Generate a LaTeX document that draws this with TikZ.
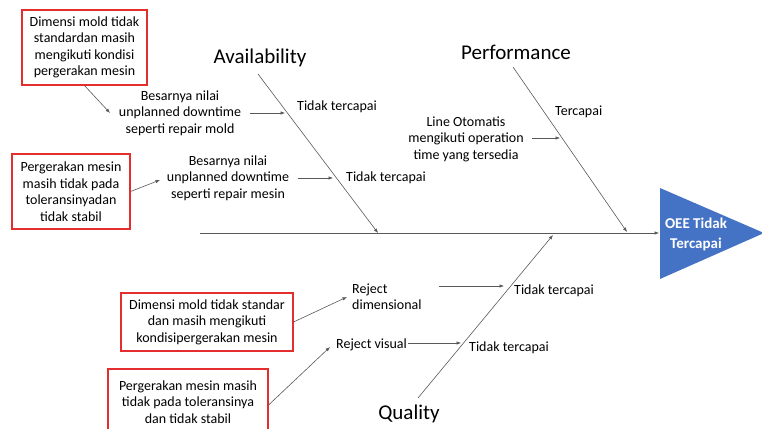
\documentclass[tikz,border=0pt]{standalone}
\usepackage{fontspec}
\setmainfont{Carlito}
\usetikzlibrary{arrows.meta}
\definecolor{boxred}{RGB}{228,45,45}
\definecolor{oeeblue}{RGB}{68,114,196}

\begin{document}
\begin{tikzpicture}[>=latex,x=1pt,y=-1pt,
		bone/.style={draw=black!65,line width=0.6pt},
		arr/.style={bone,-{Latex[length=4.5pt,width=3.5pt]}},
		cause/.style={align=center,font=\fontsize{14}{16.5}\selectfont,inner sep=0pt},
		rootbox/.style={draw=boxred,line width=1.1pt,align=center,font=\fontsize{14}{16.5}\selectfont,inner sep=0pt},
		cat/.style={font=\fontsize{21}{24}\selectfont},
	]
	\useasboundingbox (0,0) rectangle (762,428);

	% spine and head
	\coordinate (SpS) at (200,233);
	\coordinate (Tri) at (659,233);
	\coordinate (TriT) at (660,188);
	\coordinate (TriB) at (660,279);
	\coordinate (TriR) at (764,233);

	\fill[oeeblue] (TriT) -- (TriR) -- (TriB) -- cycle;
	\node[text=white,align=center,font=\bfseries\fontsize{15}{20}\selectfont] (oee) at (696,234) {OEE Tidak\\Tercapai};
	\draw[arr] (SpS) -- (Tri);

	% bones
	\coordinate (AvS) at (258,74);
	\coordinate (AvE) at (378,233);
	\coordinate (PfS) at (513,67);
	\coordinate (PfE) at (627,232);
	\coordinate (QlS) at (418,398);
	\coordinate (QlE) at (553,235);

	\draw[arr] (AvS) -- (AvE);
	\draw[arr] (PfS) -- (PfE);
	\draw[arr] (QlS) -- (QlE);

	\node[cat] (avail) at (260,58) {Availability};
	\node[cat] (perf) at (516,52) {Performance};
	\node[cat] (qual) at (409,414) {Quality};

	% availability
	\node[rootbox,minimum width=125pt,minimum height=75pt] (box1) at (84.5,47.5) {Dimensi mold tidak\\standardan masih\\mengikuti kondisi\\pergerakan mesin};
	\node[rootbox,minimum width=118pt,minimum height=75pt] (box2) at (71,191.5) {Pergerakan mesin\\masih tidak pada\\toleransinyadan\\tidak stabil};
	\node[cause] (dt1) at (180,113) {Besarnya nilai\\unplanned downtime\\seperti repair mold};
	\node[cause] (dt2) at (228,178) {Besarnya nilai\\unplanned downtime\\seperti repair mesin};
	\node[cause,anchor=west] (res1) at (297,107) {Tidak tercapai};
	\node[cause,anchor=west] (res2) at (346,178) {Tidak tercapai};

	\coordinate (D1) at (110,113);
	\coordinate (D2) at (160,180);
	\coordinate (A1s) at (250,113);
	\coordinate (A1e) at (285,113);
	\coordinate (A2s) at (298,178);
	\coordinate (A2e) at (333,178);

	\draw[arr] (box1.south) -- (D1);
	\draw[arr] (box2.east) -- (D2);
	\draw[arr] (A1s) -- (A1e);
	\draw[arr] (A2s) -- (A2e);

	% performance
	\node[cause] (line) at (466,139) {Line Otomatis\\mengikuti operation\\time yang tersedia};
	\node[cause,anchor=west] (res3) at (555,112) {Tercapai};
	\coordinate (P1s) at (532,138);
	\coordinate (P1e) at (560,138);
	\draw[arr] (P1s) -- (P1e);

	% quality
	\node[rootbox,minimum width=172pt,minimum height=58pt] (box3) at (207,322) {Dimensi mold tidak standar\\dan masih mengikuti\\kondisipergerakan mesin};
	\node[rootbox,minimum width=160pt,minimum height=66pt] (box4) at (188,402) {Pergerakan mesin masih\\tidak pada toleransinya\\dan tidak stabil};
	\node[cause,anchor=west,align=left] (rej1) at (352,296.5) {Reject\\dimensional};
	\node[cause,anchor=west] (rej2) at (336,345) {Reject visual};
	\node[cause,anchor=west] (res4) at (514,291) {Tidak tercapai};
	\node[cause,anchor=west] (res5) at (469,348) {Tidak tercapai};

	\coordinate (R1) at (347,297);
	\coordinate (R2) at (330,347);
	\coordinate (Q1s) at (439,286);
	\coordinate (Q1e) at (504,286);
	\coordinate (Q2s) at (408,343);
	\coordinate (Q2e) at (461,343);

	\draw[arr] (box3.east) -- (R1);
	\draw[arr] ([yshift=-3pt]box4.east) -- (R2);
	\draw[arr] (Q1s) -- (Q1e);
	\draw[arr] (Q2s) -- (Q2e);
\end{tikzpicture}
\end{document}
